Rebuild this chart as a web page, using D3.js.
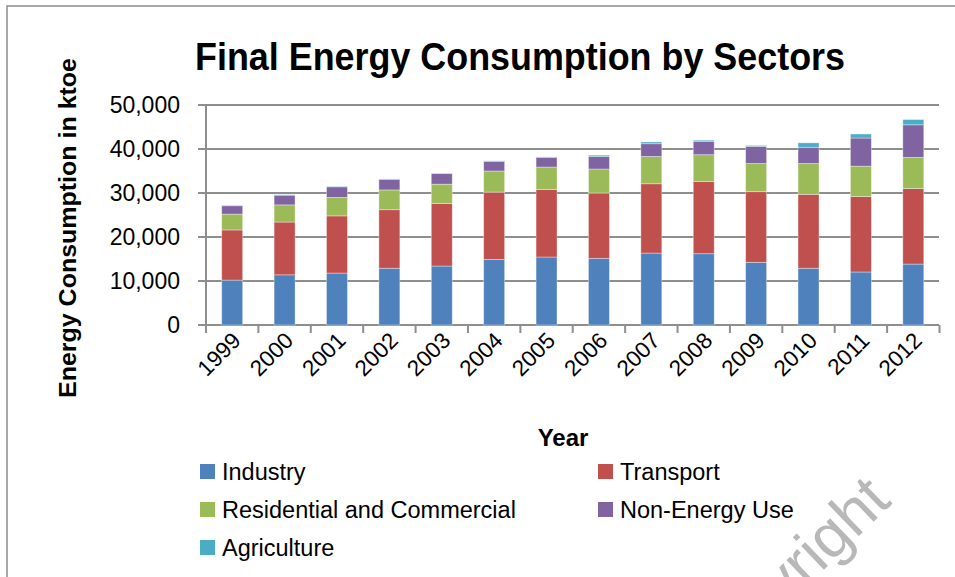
<!DOCTYPE html>
<meta charset="utf-8">
<script src="https://d3js.org/d3.v7.min.js"></script>
<style>
    body { margin: 0; background: #fff; }
    svg text { font-family: "Liberation Sans", Arial, sans-serif; fill: #000; }
</style>
<div id="chart"></div>
<script>
    // data (ktoe)
    var years = ["1999", "2000", "2001", "2002", "2003", "2004", "2005", "2006", "2007", "2008", "2009", "2010", "2011", "2012"];
    var sectors = ["Industry", "Transport", "Residential and Commercial", "Non-Energy Use", "Agriculture"];
    var industry = [10200, 11400, 11800, 12900, 13400, 14900, 15450, 15150, 16350, 16200, 14250, 12900, 12050, 13850];
    var transport = [11400, 12000, 13000, 13300, 14200, 15300, 15350, 14850, 15750, 16400, 16050, 16800, 17150, 17150];
    var residential = [3600, 3900, 4200, 4500, 4400, 4800, 5100, 5450, 6200, 6100, 6400, 7000, 6900, 7100];
    var nonEnergy = [1900, 2200, 2400, 2400, 2400, 2200, 2200, 2850, 2900, 3050, 3900, 3700, 6400, 7400];
    var agriculture = [100, 100, 100, 100, 100, 100, 100, 300, 400, 250, 200, 1000, 900, 1200];
    var yTicks = [0, 10000, 20000, 30000, 40000, 50000];

    var colors = ["#4F81BD", "#C0504D", "#9BBB59", "#8064A2", "#4BACC6"];
    var series = [industry, transport, residential, nonEnergy, agriculture];

    var W = 955, H = 577;
    var svg = d3.select("#chart").append("svg")
        .attr("width", W).attr("height", H);

    // outer chart border (only top and left are visible)
    svg.append("path")
        .attr("d", "M7,577 L7,6 L955,6")
        .attr("fill", "none")
        .attr("stroke", "#8c8c8c")
        .attr("stroke-width", 1.5);

    var table = years.map(function (y, i) {
        var row = { year: y };
        sectors.forEach(function (s, j) { row[s] = series[j][i]; });
        return row;
    });

    var x = d3.scaleBand().domain(years).range([206, 939.5]).paddingInner(0.6).paddingOuter(0.3);
    var y = d3.scaleLinear().domain([0, 50000]).range([325, 105]);
    var color = d3.scaleOrdinal().domain(sectors).range(colors);

    var gridColor = "#8e8e8e";

    // gridlines
    svg.selectAll(".grid")
        .data(yTicks)
        .enter()
        .append("line")
        .attr("x1", 198).attr("x2", 939)
        .attr("y1", d => y(d)).attr("y2", d => y(d))
        .attr("stroke", gridColor)
        .attr("stroke-width", 2);

    // y axis line
    svg.append("line")
        .attr("x1", 206).attr("x2", 206)
        .attr("y1", y(50000)).attr("y2", y(0) + 8)
        .attr("stroke", gridColor).attr("stroke-width", 2);

    // x ticks at category edges
    var step = x.step();
    svg.selectAll(".xtick")
        .data(d3.range(years.length + 1))
        .enter()
        .append("line")
        .attr("x1", i => 206 + i * step).attr("x2", i => 206 + i * step)
        .attr("y1", y(0)).attr("y2", y(0) + 8)
        .attr("stroke", gridColor).attr("stroke-width", 2);

    // y tick labels
    svg.selectAll(".ylab")
        .data(yTicks)
        .enter()
        .append("text")
        .attr("x", 180)
        .attr("y", d => y(d) + 8)
        .attr("text-anchor", "end")
        .style("font-size", "23px")
        .text(d => d3.format(",")(d));

    // stacked bars
    var stack = d3.stack().keys(sectors);
    var layers = stack(table);

    svg.selectAll(".layer")
        .data(layers)
        .enter()
        .append("g")
        .attr("fill", d => color(d.key))
        .selectAll("rect")
        .data(d => d)
        .enter()
        .append("rect")
        .attr("x", d => x(d.data.year))
        .attr("width", x.bandwidth())
        .attr("y", d => y(d[1]))
        .attr("height", d => y(d[0]) - y(d[1]))
        .attr("stroke", "rgba(255,255,255,0.45)")
        .attr("stroke-width", 0.8);

    // x labels rotated
    svg.selectAll(".xlab")
        .data(years)
        .enter()
        .append("text")
        .attr("text-anchor", "end")
        .attr("transform", d => "translate(" + (x(d) + x.bandwidth() / 2 + 10) + "," + 342 + ") rotate(-45)")
        .style("font-size", "22.5px")
        .text(d => d);

    // title
    svg.append("text")
        .attr("x", 520).attr("y", 70)
        .attr("text-anchor", "middle")
        .attr("textLength", 650)
        .attr("lengthAdjust", "spacingAndGlyphs")
        .style("font-size", "38px")
        .style("font-weight", "bold")
        .text("Final Energy Consumption by Sectors");

    // axis titles
    svg.append("text")
        .attr("transform", "translate(76,228) rotate(-90)")
        .attr("text-anchor", "middle")
        .attr("textLength", 340)
        .attr("lengthAdjust", "spacingAndGlyphs")
        .style("font-size", "24px")
        .style("font-weight", "bold")
        .text("Energy Consumption in ktoe");

    svg.append("text")
        .attr("x", 563).attr("y", 446)
        .attr("text-anchor", "middle")
        .style("font-size", "24px")
        .style("font-weight", "bold")
        .text("Year");

    // legend
    var legendPos = [[200, 471], [598, 471], [200, 509], [598, 509], [200, 547]];
    var legend = svg.selectAll(".legend")
        .data(sectors)
        .enter()
        .append("g")
        .attr("transform", (d, i) => "translate(" + legendPos[i][0] + "," + legendPos[i][1] + ")");

    legend.append("rect")
        .attr("x", 0).attr("y", -7)
        .attr("width", 15).attr("height", 15)
        .attr("fill", d => color(d));

    legend.append("text")
        .attr("x", 22).attr("y", 9)
        .style("font-size", "23.5px")
        .text(d => d);

    // watermark, cut off by the bottom edge as in the source
    svg.append("text")
        .attr("transform", "translate(893,503) rotate(-44)")
        .attr("text-anchor", "end")
        .style("font-size", "62px")
        .style("fill", "#b8b8b8")
        .text("Copyright");
</script>
